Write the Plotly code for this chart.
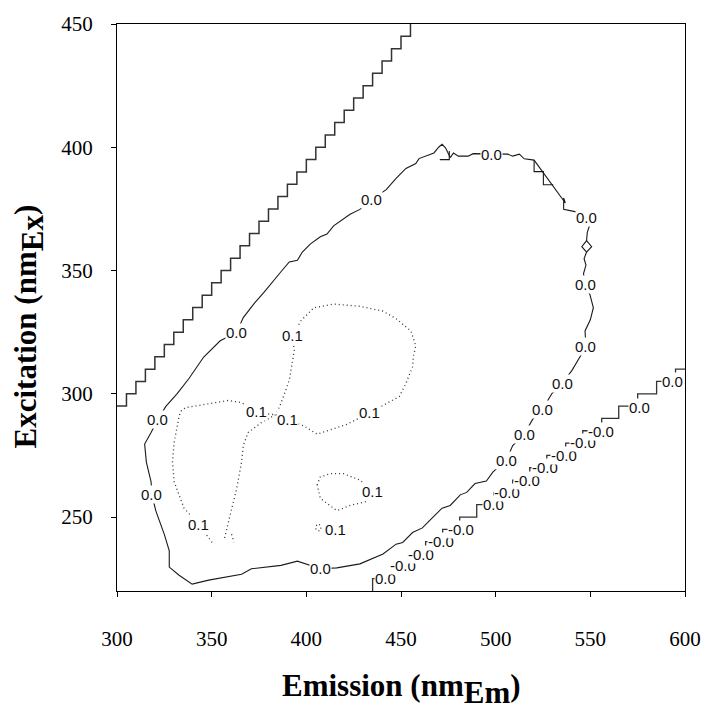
import plotly.graph_objects as go

# ---------------- data ----------------
# upper-left Rayleigh scatter boundary (staircase)
ray1_em = [300, 305, 310, 315, 320, 325, 330, 335, 340, 345, 350, 355, 360, 365, 370, 375,
           380, 385, 390, 395, 400, 405, 410, 415, 420, 425, 430, 435, 440, 445, 450, 455]
ray1_ex = [295, 300, 305, 310, 315, 320, 325, 330, 335, 340, 345, 350, 355, 360, 365, 370,
           375, 380, 385, 390, 395, 400, 405, 410, 415, 420, 425, 430, 435, 440, 445, 450]

# lower-right second-order scatter boundary (staircase)
ray2_em = [435, 445, 454, 463, 472, 481, 490, 499, 509, 518, 527, 537, 546, 556, 565, 575, 585, 595, 600]
ray2_ex = [220, 225, 230, 235, 240, 245, 250, 255, 260, 265, 270, 275, 280, 285, 290, 295, 300, 305, 310]

# 0.0 contour (main loop)
c00_em = [476.0, 477.7, 480.3, 485.5, 488.1, 497.7, 506.4, 509.0, 512.5, 515.1, 520.3, 536.8, 535.9,
          535.9, 542.5, 548.0, 549.5, 548.4, 548.0, 545.5, 548.0, 546.7, 547.7, 546.4, 547.2, 549.8,
          551.6, 550.0, 547.2, 547.7, 544.0, 540.3, 535.1, 529.8, 524.6, 519.5, 515.1, 509.0, 505.6,
          498.6, 495.1, 489.1, 484.7, 481.3, 476.0, 471.7, 464.8, 461.3, 456.1, 450.9, 447.4, 440.5,
          428.3, 416.1, 407.4, 402.2, 395.3, 386.6, 371.0, 365.8, 348.4, 339.7, 332.8, 327.6, 327.6,
          325.0, 320.6, 318.4, 318.0, 315.5, 314.6, 318.0, 321.5, 325.8, 331.9, 338.0, 345.8, 354.5,
          363.2, 366.7, 372.7, 377.5, 381.4, 386.6, 391.0, 395.3, 397.9, 402.2, 407.4, 410.9, 414.4,
          423.1, 428.3, 434.4, 442.2, 447.4, 452.6, 457.8, 459.5, 464.8, 467.4, 470.0, 471.7, 473.5,
          475.2, 476.0]
c00_ex = [395.8, 397.7, 396.4, 396.4, 397.4, 397.2, 397.2, 396.4, 397.2, 395.3, 394.8, 377.4, 379.4,
          374.8, 373.8, 371.4, 368.1, 365.5, 362.1, 359.7, 357.5, 354.8, 352.2, 348.8, 344.2, 340.2,
          334.9, 330.0, 325.5, 319.1, 314.0, 309.5, 304.2, 300.2, 293.6, 289.6, 283.6, 279.0, 273.0,
          268.3, 264.6, 263.6, 260.0, 259.0, 254.7, 253.6, 248.3, 245.6, 243.7, 239.7, 239.0, 235.0,
          231.0, 229.4, 229.0, 230.4, 232.1, 230.4, 229.0, 226.8, 224.4, 222.8, 226.4, 229.7, 236.3,
          243.0, 252.3, 259.0, 264.3, 272.3, 279.6, 284.3, 289.6, 294.9, 300.2, 306.2, 314.9, 321.5,
          324.9, 330.9, 336.9, 341.0, 344.8, 349.5, 353.5, 354.2, 357.5, 360.8, 363.7, 364.8, 368.1,
          372.8, 374.8, 378.8, 382.8, 387.4, 391.4, 393.4, 395.4, 396.8, 397.7, 400.1, 401.2, 399.8,
          397.3, 395.8]

# small step artefacts belonging to the 0.0 contour (segments separated by None)
c00s_em = [470.5, 475.5, 475.5, None, 520.3, 520.3, 525.2, 525.2, 530.4, None, 548.0, 550.7, 548.0]
c00s_ex = [395.0, 395.0, 398.5, None, 394.8, 390.1, 390.1, 384.8, 384.8, None, 362.1, 359.7, 357.5]

# 0.1 contours (dotted)
c01a_em = [350.2, 343.2, 335.4, 330.2, 329.3, 330.2, 332.8, 333.7, 336.2, 348.4, 358.9, 365.8, 373.5,
           381.0, 384.0, 390.1, 398.8, 405.7, 421.4, 433.4, 449.1, 452.6, 456.1, 456.5, 457.8, 455.2,
           447.4, 440.5, 428.3, 414.4, 404.0, 397.0, 392.7, 393.6, 391.0, 386.6, 384.0, 376.2, 369.3,
           366.7, 365.8, 363.2, 359.7, 357.1, 356.5, None, 360.5, 361.8]
c01a_ex = [239.7, 247.0, 253.6, 264.3, 272.3, 280.3, 290.9, 292.9, 294.4, 296.0, 297.3, 296.4, 292.9,
           291.6, 291.6, 289.6, 286.9, 283.6, 287.6, 292.3, 298.9, 304.2, 310.9, 315.0, 319.5, 325.5,
           330.5, 333.5, 335.5, 336.4, 334.9, 329.5, 323.5, 317.5, 305.5, 296.2, 291.6, 288.3, 284.3,
           279.0, 272.3, 261.6, 251.0, 243.0, 240.5, None, 243.0, 239.8]
c01b_em = [405.7, 407.4, 412.6, 419.6, 428.3, 435.2, 431.8, 423.1, 416.1, 412.6, 407.4, 405.7]
c01b_ex = [263.0, 266.3, 267.6, 267.6, 265.0, 260.3, 256.3, 254.7, 252.6, 254.7, 257.6, 263.0]
c01c_em = [405.2, 406.5, 407.8, 407.5, 406.0, 405.0, 405.2]
c01c_ex = [246.5, 247.3, 246.2, 244.6, 244.3, 245.3, 246.5]

# contour labels
lab00_em = [434.4, 497.7, 548.0, 547.2, 547.7, 535.1, 524.6, 515.1, 505.6, 407.4, 318.4, 321.5, 363.2]
lab00_ex = [378.8, 397.2, 371.4, 344.2, 319.1, 304.2, 293.6, 283.6, 273.0, 229.0, 259.0, 289.6, 324.9]
lab01_em = [343.2, 373.5, 390.1, 392.7, 433.4, 435.2, 415.2]
lab01_ex = [247.0, 292.9, 289.6, 323.5, 292.3, 260.3, 245.0]
labn_em = [442.0, 451.0, 460.5, 471.0, 481.5, 498.6, 506.0, 516.5, 526.0, 536.0, 546.0, 555.5, 576.0, 593.2]
labn_ex = [225.0, 230.4, 235.0, 240.0, 245.0, 255.0, 260.0, 265.0, 270.3, 275.0, 280.3, 284.7, 294.6, 304.9]
labn_txt = ["0.0", "-0.0", "-0.0", "-0.0", "-0.0", "0.0", "-0.0", "-0.0", "-0.0", "-0.0",
            "-0.0", "-0.0", "0.0", "0.0"]

x_ticks = [300, 350, 400, 450, 500, 550, 600]
y_ticks = [250, 300, 350, 400, 450]

# ---------------- figure ----------------
fig = go.Figure()
line_col = "#1a1a1a"
fig.add_trace(go.Scatter(x=ray1_em, y=ray1_ex, mode="lines",
                         line=dict(shape="hv", color="#333333", width=1.5), hoverinfo="skip"))
fig.add_trace(go.Scatter(x=ray2_em, y=ray2_ex, mode="lines",
                         line=dict(shape="vh", color="#333333", width=1.3), hoverinfo="skip"))
fig.add_trace(go.Scatter(x=c00_em, y=c00_ex, mode="lines",
                         line=dict(color=line_col, width=1.1), hoverinfo="skip"))
fig.add_trace(go.Scatter(x=c00s_em, y=c00s_ex, mode="lines",
                         line=dict(color=line_col, width=1.1), hoverinfo="skip"))
for xs, ys in [(c01a_em, c01a_ex), (c01b_em, c01b_ex), (c01c_em, c01c_ex)]:
    fig.add_trace(go.Scatter(x=xs, y=ys, mode="lines",
                             line=dict(color="#333333", width=1.3, dash="1px,3px"), hoverinfo="skip"))

lab_font = dict(family="Liberation Sans, Arial, sans-serif", size=15, color="#111111")
for xs, ys, ts in [(lab00_em, lab00_ex, ["0.0"] * len(lab00_em)),
                   (lab01_em, lab01_ex, ["0.1"] * len(lab01_em)),
                   (labn_em, labn_ex, labn_txt)]:
    for x, y, t in zip(xs, ys, ts):
        fig.add_annotation(x=x, y=y, text=t, showarrow=False, font=lab_font,
                           bgcolor="white", borderpad=0, xanchor="center", yanchor="middle")

title_font = dict(family="Liberation Serif, Times New Roman, serif", size=31, color="black")
fig.add_annotation(xref="paper", yref="paper", x=0.5, y=-0.172,
                   text="<b>Emission (nm<sub><span style='font-size:31px'>Em</span></sub>)</b>",
                   showarrow=False, font=title_font, xanchor="center", yanchor="middle")
fig.add_annotation(xref="paper", yref="paper", x=-0.1545, y=0.467, textangle=-90,
                   text="<b>Excitation (nm<sub><span style='font-size:31px'>Ex</span></sub>)</b>",
                   showarrow=False, font=title_font, xanchor="center", yanchor="middle")

tick_font = dict(family="Liberation Serif, Times New Roman, serif", size=21, color="black")
axis_common = dict(showgrid=False, zeroline=False, showline=True, linecolor="black", linewidth=1,
                   mirror=True, ticks="outside", ticklen=5, tickcolor="black", tickwidth=1,
                   tickfont=tick_font)
fig.update_xaxes(range=[300, 600], tickvals=x_ticks, ticklabelstandoff=24, **axis_common)
fig.update_yaxes(range=[220, 450], tickvals=y_ticks, ticklabelstandoff=14, **axis_common)

fig.update_layout(width=713, height=711, margin=dict(l=117, r=20, t=15, b=120),
                  plot_bgcolor="white", paper_bgcolor="white", showlegend=False)

fig.write_html("out.html")
